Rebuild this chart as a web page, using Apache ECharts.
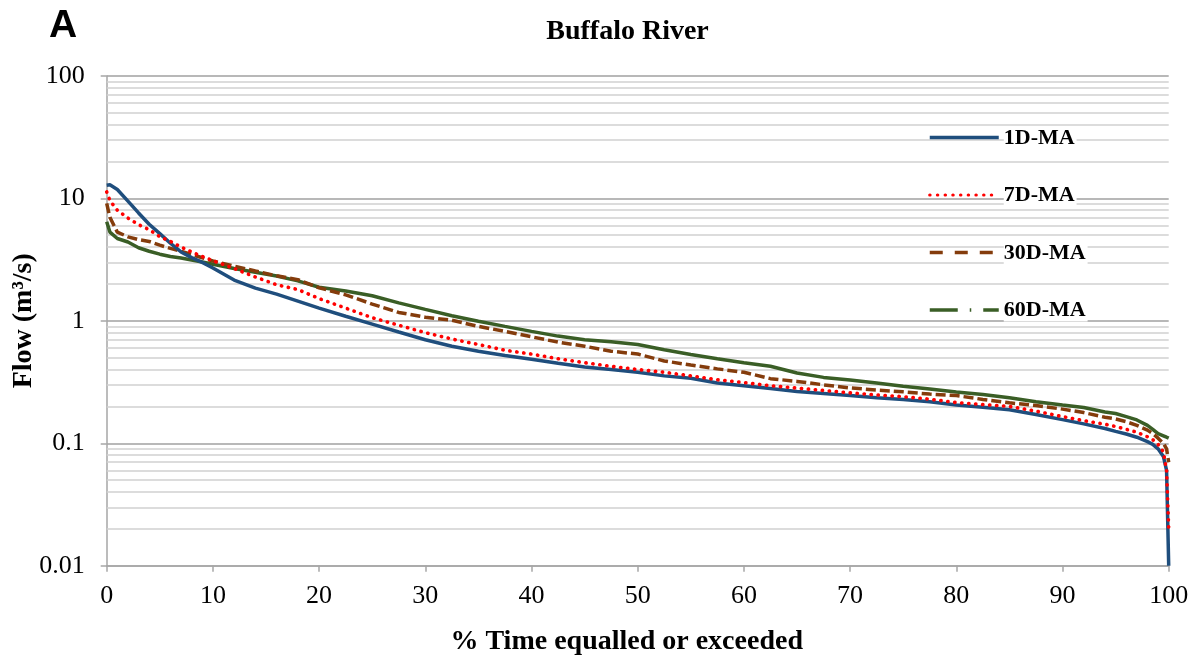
<!DOCTYPE html>
<html>
<head>
<meta charset="utf-8">
<script src="https://cdn.jsdelivr.net/npm/echarts@6/dist/echarts.min.js"></script>
<style>html,body{margin:0;padding:0;background:#fff;}#c{width:1198px;height:659px;}</style>
</head>
<body>
<div id="c"></div>
<script>
// % time equalled or exceeded (shared x positions)
var pct = [0, 0.3, 1, 2, 3, 4, 5, 6, 7, 8, 9, 10, 12, 14, 16, 18, 20, 22.5, 25, 27.5, 30, 32.5, 35, 37.5, 40, 42.5, 45, 47.5, 50, 52.5, 55, 57.5, 60, 62.5, 65, 67.5, 70, 72.5, 75, 77.5, 80, 82.5, 85, 87.5, 90, 92, 94, 95, 96, 97, 98, 98.5, 99, 99.5, 99.8, 100];
// Flow (m3/s)
var flow1D = [12.8, 12.9, 11.8, 9.5, 7.6, 6.15, 5.15, 4.3, 3.65, 3.28, 3.0, 2.7, 2.15, 1.85, 1.65, 1.45, 1.27, 1.09, 0.94, 0.81, 0.70, 0.62, 0.565, 0.52, 0.485, 0.45, 0.42, 0.40, 0.38, 0.355, 0.34, 0.31, 0.295, 0.28, 0.265, 0.255, 0.245, 0.235, 0.228, 0.218, 0.205, 0.197, 0.188, 0.172, 0.156, 0.144, 0.132, 0.125, 0.119, 0.112, 0.103, 0.098, 0.09, 0.078, 0.06, 0.01];
var flow7D = [11.3, 9.6, 8.0, 6.9, 6.1, 5.55, 4.86, 4.45, 4.0, 3.65, 3.35, 3.1, 2.67, 2.28, 1.97, 1.80, 1.52, 1.27, 1.06, 0.92, 0.80, 0.71, 0.64, 0.575, 0.535, 0.49, 0.455, 0.425, 0.40, 0.38, 0.355, 0.33, 0.313, 0.295, 0.282, 0.27, 0.258, 0.248, 0.24, 0.229, 0.215, 0.207, 0.20, 0.183, 0.165, 0.153, 0.143, 0.137, 0.13, 0.123, 0.113, 0.107, 0.098, 0.085, 0.06, 0.02];
var flow30D = [9.1, 7.0, 5.3, 4.85, 4.6, 4.45, 4.15, 3.9, 3.7, 3.48, 3.27, 3.08, 2.8, 2.55, 2.33, 2.17, 1.86, 1.63, 1.37, 1.17, 1.07, 1.01, 0.90, 0.82, 0.74, 0.67, 0.62, 0.565, 0.535, 0.47, 0.435, 0.405, 0.38, 0.337, 0.32, 0.30, 0.283, 0.272, 0.263, 0.252, 0.245, 0.228, 0.214, 0.203, 0.19, 0.178, 0.163, 0.158, 0.15, 0.14, 0.128, 0.12, 0.11, 0.1, 0.09, 0.07];
var flow60D = [6.45, 5.3, 4.7, 4.4, 3.95, 3.7, 3.5, 3.35, 3.26, 3.14, 3.02, 2.9, 2.67, 2.49, 2.32, 2.12, 1.88, 1.75, 1.6, 1.4, 1.24, 1.1, 0.99, 0.9, 0.82, 0.75, 0.70, 0.675, 0.64, 0.58, 0.53, 0.49, 0.455, 0.425, 0.375, 0.345, 0.328, 0.31, 0.292, 0.277, 0.262, 0.25, 0.235, 0.218, 0.205, 0.196, 0.18, 0.175, 0.165, 0.155, 0.14, 0.13, 0.12, 0.115, 0.112, 0.11];
var seriesNames = ['1D-MA', '7D-MA', '30D-MA', '60D-MA'];
var xTicks = [0, 100, 10];
var yRange = [0.01, 100];
var minorGrid = [0.02,0.03,0.04,0.05,0.06,0.07,0.08,0.09,0.2,0.3,0.4,0.5,0.6,0.7,0.8,0.9,2,3,4,5,6,7,8,9,20,30,40,50,60,70,80,90];

function pairs(xs, ys){ return xs.map(function(x,i){ return [x, ys[i]]; }); }

var serif = 'Liberation Serif';
var chart = echarts.init(document.getElementById('c'));
chart.setOption({
  backgroundColor: '#fff',
  animation: false,
  grid: {left: 106.7, right: 29.3, top: 75.9, bottom: 93.3, containLabel: false, outerBoundsMode: 'none'},
  graphic: [
    {type: 'text', left: 49, top: 7, style: {text: 'A', font: 'bold 39px "Liberation Sans"', fill: '#000'}},
    {type: 'text', x: 627.5, y: 32, style: {text: 'Buffalo River', font: 'bold 28px "Liberation Serif"', fill: '#000', textAlign: 'center', textVerticalAlign: 'middle'}}
  ],
  legend: {
    show: true, type: 'plain', padding: 0, z: 10,
    orient: 'vertical', left: 928, top: 126,
    itemWidth: 69, itemHeight: 14, itemGap: 34.5,
    itemStyle: {opacity: 0},
    formatter: '{t|{name}}',
    textStyle: {fontFamily: serif, fontWeight: 'bold', fontSize: 22, color: '#000',
      rich: {t: {fontFamily: serif, fontWeight: 'bold', fontSize: 22, color: '#000', backgroundColor: '#fff', padding: [1, 2, 0, 0]}}},
    data: [
      {name: '1D-MA', lineStyle: {width: 3.5, type: 'solid'}},
      {name: '7D-MA', lineStyle: {width: 3.2, type: [0.3, 7.4], cap: 'round'}},
      {name: '30D-MA', lineStyle: {width: 3.5, type: [13, 12]}},
      {name: '60D-MA', lineStyle: {width: 3.5, type: [28, 12, 1.5, 12]}}
    ]
  },
  xAxis: {
    type: 'value', min: xTicks[0], max: xTicks[1], interval: xTicks[2],
    name: '% Time equalled or exceeded', nameLocation: 'middle', nameGap: 62, nameMoveOverlap: false,
    nameTextStyle: {fontFamily: serif, fontWeight: 'bold', fontSize: 28, color: '#000', padding: [0, 22, 0, 0]},
    axisLine: {lineStyle: {color: '#a6a6a6', width: 1.5}},
    axisTick: {show: true, length: 6, lineStyle: {color: '#a6a6a6', width: 1.5}},
    axisLabel: {fontFamily: serif, fontSize: 26, color: '#000', margin: 17},
    splitLine: {show: false}
  },
  yAxis: {
    type: 'log', logBase: 10, min: yRange[0], max: yRange[1],
    name: 'Flow (m³/s)', nameLocation: 'middle', nameGap: 69, nameMoveOverlap: false,
    nameTextStyle: {fontFamily: serif, fontWeight: 'bold', fontSize: 28, color: '#000'},
    axisLine: {show: true, lineStyle: {color: '#a6a6a6', width: 1.5}},
    axisTick: {show: true, length: 6, lineStyle: {color: '#a6a6a6', width: 1.5}},
    axisLabel: {fontFamily: serif, fontSize: 26, color: '#000', margin: 22},
    splitLine: {show: true, lineStyle: {color: '#a0a0a0', width: 1.5}}
  },
  series: [
    {name: seriesNames[0], type: 'line', showSymbol: false, symbol: 'none', z: 5,
     data: pairs(pct, flow1D), lineStyle: {color: '#1f4e7d', width: 3.5}, itemStyle: {color: '#1f4e7d'}},
    {name: seriesNames[1], type: 'line', showSymbol: false, symbol: 'none', z: 6,
     data: pairs(pct, flow7D), lineStyle: {color: '#ff0000', width: 3.6, type: [0.3, 6.7], cap: 'round'}, itemStyle: {color: '#ff0000'}},
    {name: seriesNames[2], type: 'line', showSymbol: false, symbol: 'none', z: 4,
     data: pairs(pct, flow30D), lineStyle: {color: '#843c0c', width: 3.5, type: [10, 4]}, itemStyle: {color: '#843c0c'}},
    {name: seriesNames[3], type: 'line', showSymbol: false, symbol: 'none', z: 3,
     data: pairs(pct, flow60D), lineStyle: {color: '#3a5e26', width: 3.5}, itemStyle: {color: '#3a5e26'}},
    {name: '_grid', type: 'line', data: [], silent: true, z: 1,
     markLine: {silent: true, z: 1, symbol: ['none','none'], label: {show: false}, animation: false,
       lineStyle: {color: '#d0d0d0', type: 'solid', width: 1.5},
       data: minorGrid.map(function(v){ return {yAxis: v}; })}}
  ]
});
</script>
</body>
</html>
